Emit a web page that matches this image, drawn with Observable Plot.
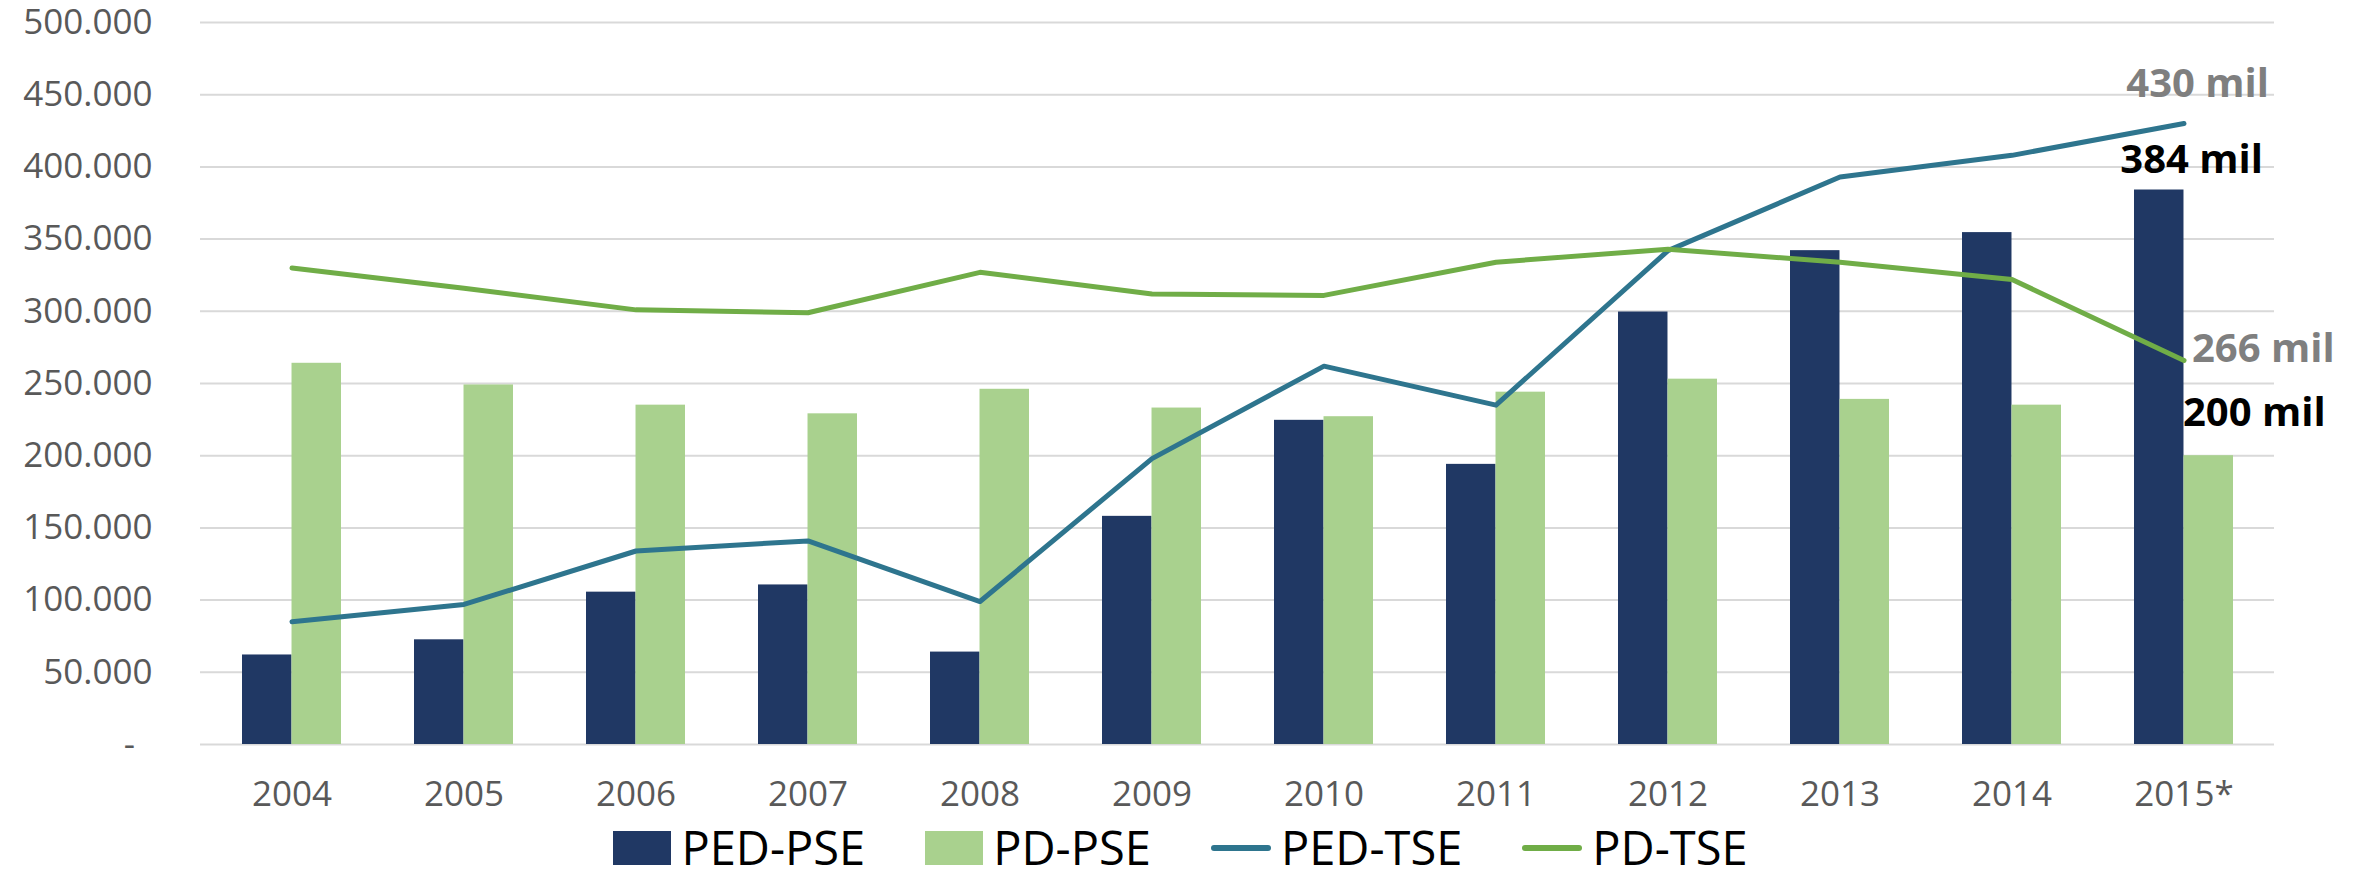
<!DOCTYPE html>
<html>
<head>
<meta charset="utf-8">
<script src="https://cdn.jsdelivr.net/npm/d3@7"></script>
<script src="https://cdn.jsdelivr.net/npm/@observablehq/plot@0.6"></script>
<style>
  html, body { margin: 0; padding: 0; background: #fff; }
  body { width: 2361px; height: 879px; overflow: hidden; font-family: "Open Sans", sans-serif; }
  #legend { display: flex; justify-content: center; align-items: center; height: 69px; font-size: 47px; color: #000; line-height: 1; padding-top: 6px; box-sizing: border-box; }
  .item { display: flex; align-items: center; margin: 0 30px; }
  .key { margin-right: 10px; }
</style>
</head>
<body>
<div id="chart"></div>
<div id="legend"></div>
<script>
// ---- data ----
const years = ["2004","2005","2006","2007","2008","2009","2010","2011","2012","2013","2014","2015*"];
const pedPse = [62000, 72500, 105500, 110500, 64000, 158000, 224500, 194000, 299500, 342000, 354500, 384000];
const pdPse  = [264000, 249000, 235000, 229000, 246000, 233000, 227000, 244000, 253000, 239000, 235000, 200000];
const pedTse = [85000, 97000, 134000, 141000, 99000, 198000, 262000, 235000, 342000, 393000, 408000, 430000];
const pdTse  = [330000, 316000, 301000, 299000, 327000, 312000, 311000, 334000, 343000, 334000, 322000, 266000];
const yTicks = [0, 50000, 100000, 150000, 200000, 250000, 300000, 350000, 400000, 450000, 500000];
const seriesNames = ["PED-PSE", "PD-PSE", "PED-TSE", "PD-TSE"];
const seriesColors = ["#203864", "#A9D18E", "#2E758E", "#70AD47"];
const endLabels = ["430 mil", "384 mil", "266 mil", "200 mil"];

// ---- layout ----
const W = 2361, H = 810, ML = 200, MR = 87, MT = 22, MB = 66;
const padInner = 0.427;
const bandW = (W - ML - MR) / years.length * (1 - padInner);
const half = bandW / 2;

const loc = d3.formatLocale({decimal: ",", thousands: ".", grouping: [3], currency: ["", ""]});
const fmt = loc.format(",");
const last = years.length - 1;

const chart = Plot.plot({
  width: W, height: H,
  marginLeft: ML, marginRight: MR, marginTop: MT, marginBottom: MB,
  style: {fontFamily: "Open Sans", background: "#fff", overflow: "visible"},
  x: {domain: years, type: "band", paddingInner: padInner, paddingOuter: padInner / 2},
  y: {domain: [0, 500000]},
  marks: [
    Plot.gridY(yTicks, {stroke: "#D9D9D9", strokeOpacity: 1, strokeWidth: 2}),
    Plot.axisY(yTicks, {tickSize: 0, tickPadding: 48, fontSize: 35, fill: "#595959", label: null,
      tickFormat: d => d === 0 ? "-\u2002" : fmt(d)}),
    Plot.axisX({tickSize: 0, tickPadding: 37, fontSize: 35, fill: "#595959", label: null}),
    Plot.barY(pedPse, {x: years, y: pedPse, fill: seriesColors[0], insetRight: half}),
    Plot.barY(pdPse, {x: years, y: pdPse, fill: seriesColors[1], insetLeft: half}),
    Plot.lineY(pedTse, {x: years, y: pedTse, stroke: seriesColors[2], strokeWidth: 5, strokeLinecap: "round", strokeLinejoin: "round"}),
    Plot.lineY(pdTse, {x: years, y: pdTse, stroke: seriesColors[3], strokeWidth: 5, strokeLinecap: "round", strokeLinejoin: "round"}),
    Plot.text([endLabels[0]], {x: [years[last]], y: [pedTse[last]], text: d => d, fill: "#7F7F7F", fontWeight: "bold", fontSize: 40, textAnchor: "end", dx: 85, dy: -39}),
    Plot.text([endLabels[1]], {x: [years[last]], y: [pedPse[last]], text: d => d, fill: "#000", fontWeight: "bold", fontSize: 40, textAnchor: "end", dx: 79, dy: -30}),
    Plot.text([endLabels[2]], {x: [years[last]], y: [pdTse[last]], text: d => d, fill: "#7F7F7F", fontWeight: "bold", fontSize: 40, textAnchor: "start", dx: 8, dy: -11}),
    Plot.text([endLabels[3]], {x: [years[last]], y: [pdPse[last]], text: d => d, fill: "#000", fontWeight: "bold", fontSize: 40, textAnchor: "start", dx: -1, dy: -43})
  ]
});
document.getElementById("chart").appendChild(chart);

// ---- legend ----
const legend = document.getElementById("legend");
seriesNames.forEach((name, i) => {
  const item = document.createElement("div");
  item.className = "item";
  const key = document.createElement("span");
  key.className = "key";
  key.style.display = "inline-block";
  key.style.background = seriesColors[i];
  if (i < 2) { key.style.width = "58px"; key.style.height = "34px"; }
  else { key.style.width = "60px"; key.style.height = "6px"; key.style.borderRadius = "3px"; }
  const label = document.createElement("span");
  label.textContent = name;
  item.appendChild(key);
  item.appendChild(label);
  legend.appendChild(item);
});
</script>
</body>
</html>
